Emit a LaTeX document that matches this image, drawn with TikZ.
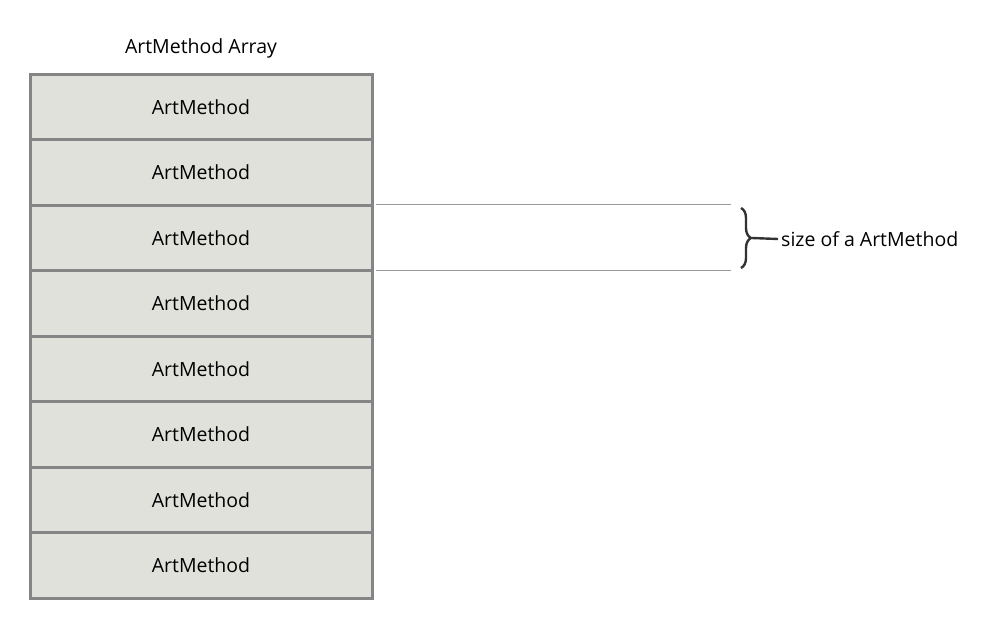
\documentclass[tikz,border=0pt]{standalone}
\usepackage{fontspec}
\setmainfont{Open Sans}
\usetikzlibrary{decorations.pathreplacing}
\definecolor{cellfill}{HTML}{E1E1DC}
\definecolor{cellline}{HTML}{858585}
\definecolor{guide}{HTML}{999999}
\begin{document}
\begin{tikzpicture}[x=1pt,y=-1pt,
  cell/.style={draw=cellline,fill=cellfill,line width=3pt,minimum width=342pt,minimum height=65.5pt,inner sep=0pt,font=\fontsize{19.5}{22}\selectfont},
  guide/.style={draw=guide,line width=1.2pt},
  lab/.style={font=\fontsize{19.5}{22}\selectfont,inner sep=0pt}]
\useasboundingbox (0,0) rectangle (1006,632);
\foreach \i in {0,...,7}{
  \node[cell] (c\i) at (201,{106.75+65.5*\i}) {ArtMethod};
}
\node[lab] (title) at (201,48) {ArtMethod Array};
\coordinate (g1s) at (376,204.5); \coordinate (g1e) at (731,204.5);
\coordinate (g2s) at (376,270.5); \coordinate (g2e) at (731,270.5);
\draw[guide] (g1s) -- (g1e);
\draw[guide] (g2s) -- (g2e);
\coordinate (bt) at (741,208); \coordinate (bb) at (741,268);
\draw[line width=2.4pt,color=black!80,decorate,decoration={brace,amplitude=10pt}] (bt) -- (bb);
\coordinate (tip) at (752,238);
\node[lab,anchor=west] (size) at (781,239) {size of a ArtMethod};
\draw[line width=2.4pt,color=black!80] (tip) -- ([xshift=-3pt]size.west);
\end{tikzpicture}
\end{document}
